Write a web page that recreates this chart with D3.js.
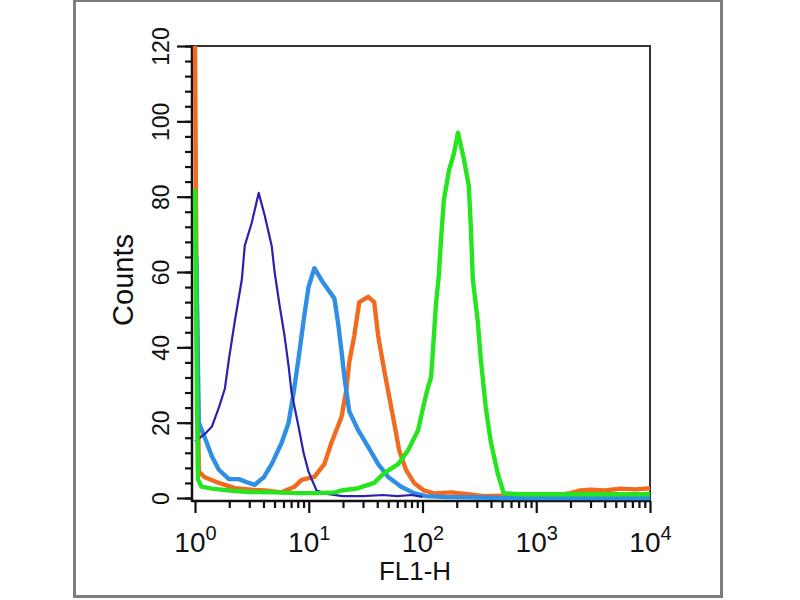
<!DOCTYPE html>
<html>
<head>
<meta charset="utf-8">
<script src="https://cdn.jsdelivr.net/npm/d3@7"></script>
<style>
  body { margin: 0; background: #fff; }
  text { font-family: "Liberation Sans", Arial, Helvetica, sans-serif; fill: #111; }
</style>
</head>
<body>
<div class="canvas"></div>
<script>
// FL1-H channel (log) and counts for each histogram
const darkBlueFL1 = [1.0, 1.22, 1.41, 1.62, 1.83, 1.99, 2.24, 2.58, 2.74, 3.15, 3.63, 4.10, 4.72, 5.01, 5.55, 6.13, 6.65, 7.06, 8.13, 9.00, 9.95, 11.7, 15, 20, 30, 45, 60, 80, 100]
const darkBlueCounts = [15, 17, 19, 24, 29, 37, 47, 58, 67, 73, 81, 75, 67, 60, 51, 43, 35, 28, 19, 12, 7, 2, 1, 0.5, 0.5, 0.8, 0.5, 0.8, 0.3]

const lightBlueFL1 = [1.0, 1.03, 1.08, 1.22, 1.41, 1.62, 1.99, 2.43, 2.97, 3.35, 4.02, 4.72, 5.77, 6.65, 7.36, 8.13, 9.00, 9.95, 11.2, 13.5, 16.8, 18.2, 19.4, 20.6, 22.7, 27.2, 33.3, 40.8, 49.9, 64.9, 84.3, 107, 150, 250, 500, 1000, 10000]
const lightBlueCounts = [68, 62, 20, 16, 11, 7.5, 5, 5, 4, 3.5, 5.5, 9, 14.6, 20, 28, 37, 47, 56, 61, 57, 53, 46, 39, 32, 23, 18, 13.6, 9, 5.6, 3, 1.3, 0.5, 0.3, 0.2, 0, 0, 0]

const orangeFL1 = [1.0, 1.03, 1.08, 1.22, 1.62, 2.24, 3.15, 4.10, 5.77, 7.50, 8.64, 11.2, 13.7, 15.8, 19.4, 21.4, 22.7, 25.1, 27.8, 33.3, 37.6, 40.8, 46.0, 50.9, 56.3, 62.3, 71.8, 84.3, 103, 126, 180, 250, 346, 500, 800, 1300, 2000, 2440, 3000, 4000, 5500, 7500, 10000]
const orangeCounts = [120, 60, 7, 5.5, 4, 2.6, 2.2, 2, 1.5, 3, 4.8, 5.6, 9, 14.6, 21.5, 28.7, 36, 43, 52, 53.4, 52, 43, 34, 27, 20, 12.7, 7.4, 4, 2, 1.2, 1.5, 1, 0.5, 0.6, 0.4, 0.5, 1.3, 2, 2.2, 2, 2.5, 2.3, 2.6]

const greenFL1 = [1.0, 1.03, 1.06, 1.14, 1.41, 2.0, 3.0, 5.0, 8.0, 12, 17, 19.4, 27.2, 37.6, 46.0, 61.1, 74.7, 91.4, 103, 112, 119, 124, 131, 139, 145, 154, 171, 189, 205, 231, 255, 266, 277, 306, 325, 360, 398, 458, 517, 700, 1000, 2000, 4000, 10000]
const greenCounts = [82, 40, 5, 3, 2.5, 2, 1.6, 1.5, 1.3, 1.3, 1.5, 2, 2.6, 4, 6.6, 9, 12.7, 18, 25, 29.5, 32, 40, 51, 59, 68, 79, 87, 91.5, 97, 90, 83, 72, 58, 47, 37, 24, 15, 6.6, 1.3, 1, 1, 1, 1, 1]

const yMajorTicks = [0, 20, 40, 60, 80, 100, 120]
const xDecades = [0, 1, 2, 3, 4]

const series = [
    { name: 'orange', fl1: orangeFL1, counts: orangeCounts, color: '#f26a1e', width: 4.4 },
    { name: 'lightBlue', fl1: lightBlueFL1, counts: lightBlueCounts, color: '#2f8fe4', width: 4.4 },
    { name: 'darkBlue', fl1: darkBlueFL1, counts: darkBlueCounts, color: '#2a21ad', width: 2.2 },
    { name: 'green', fl1: greenFL1, counts: greenCounts, color: '#26e51f', width: 4.4 }
]

const svg = d3.select('.canvas').append('svg').attr('width', 800).attr('height', 600)

// outer frame
svg.append('rect')
    .attr('x', 74.5).attr('y', 0.5).attr('width', 647).attr('height', 596)
    .attr('fill', 'none').attr('stroke', '#7c7c7c').attr('stroke-width', 3)

const plot = { left: 192, right: 650, top: 46, bottom: 501 }

const x = d3.scaleLog().domain([1, 10000]).range([195, 650])
const y = d3.scaleLinear().domain([0, 120]).range([498, 46])

// frame lines top / right
svg.append('path')
    .attr('d', `M${plot.left},${plot.top}H${plot.right}V${plot.bottom}`)
    .attr('fill', 'none').attr('stroke', '#333').attr('stroke-width', 2)

// y axis: minor and major ticks
svg.append('g').attr('transform', `translate(${plot.left}, 0)`)
    .call(d3.axisLeft(y).tickValues(d3.range(0, 121, 4)).tickSize(7).tickFormat(''))
const yMajor = svg.append('g').attr('transform', `translate(${plot.left}, 0)`)
    .call(d3.axisLeft(y).tickValues(yMajorTicks).tickSize(15))
yMajor.selectAll('text')
    .attr('transform', 'rotate(-90)')
    .attr('x', 0).attr('y', -23).attr('dy', 0)
    .attr('text-anchor', 'middle')
    .style('font-size', '23px')

// x axis: minor and major ticks
const minorX = []
xDecades.slice(0, -1).forEach(e => { for (let k = 2; k < 10; k++) minorX.push(k * Math.pow(10, e)) })
svg.append('g').attr('transform', `translate(0, ${plot.bottom})`)
    .call(d3.axisBottom(x).tickValues(minorX).tickSize(7).tickFormat(''))
const xMajor = svg.append('g').attr('transform', `translate(0, ${plot.bottom})`)
    .call(d3.axisBottom(x).tickValues(xDecades.map(e => Math.pow(10, e))).tickSize(12).tickFormat(''))

xMajor.selectAll('.tick text').each(function (d) {
    const t = d3.select(this).attr('y', 51).attr('dy', 0).attr('text-anchor', 'middle').style('font-size', '28px')
    t.append('tspan').text('10')
    t.append('tspan').attr('dy', -12).style('font-size', '20px').text(Math.round(Math.log10(d)))
})

svg.selectAll('.domain').remove()
svg.selectAll('.tick line').attr('stroke', '#111').attr('stroke-width', 2.2)

// axis lines
svg.append('line').attr('x1', plot.left).attr('x2', plot.left).attr('y1', plot.top - 1).attr('y2', plot.bottom + 1)
    .attr('stroke', '#111').attr('stroke-width', 2.5)
svg.append('line').attr('x1', plot.left).attr('x2', plot.right).attr('y1', plot.bottom).attr('y2', plot.bottom)
    .attr('stroke', '#111').attr('stroke-width', 2.5)

// histograms
const line = d3.line()
    .x(d => x(d[0]))
    .y(d => y(d[1]))

svg.selectAll('path.hist')
    .data(series)
    .enter()
    .append('path')
    .attr('class', 'hist')
    .attr('fill', 'none')
    .attr('stroke', d => d.color)
    .attr('stroke-width', d => d.width)
    .attr('stroke-linejoin', 'round')
    .attr('d', d => line(d.fl1.map((v, i) => [v, d.counts[i]])))

// axis titles
svg.append('text')
    .attr('transform', 'translate(133, 280) rotate(-90)')
    .attr('text-anchor', 'middle')
    .style('font-size', '29px')
    .text('Counts')

svg.append('text')
    .attr('x', 415).attr('y', 580)
    .attr('text-anchor', 'middle')
    .style('font-size', '26px')
    .text('FL1-H')
</script>
</body>
</html>
